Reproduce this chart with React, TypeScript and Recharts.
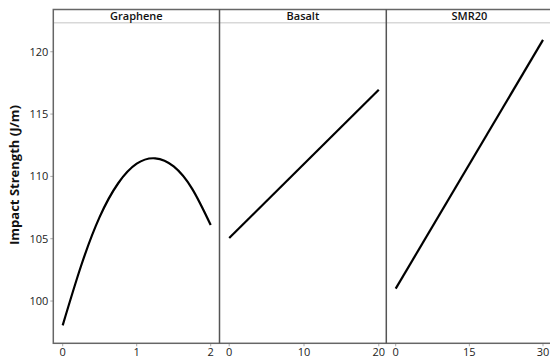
import React from "react";
import { LineChart, Line, XAxis, YAxis } from "recharts";

const panelNames = ["Graphene", "Basalt", "SMR20"];
const yTicks = [100, 105, 110, 115, 120];
const yLabel = "Impact Strength (J/m)";

const grapheneX = [0, 0.25, 0.5, 0.75, 1, 1.25, 1.5, 1.75, 2];
const grapheneY = [98.05, 102.85, 106.75, 109.45, 111.02, 111.45, 110.8, 109.0, 106.1];
const grapheneTicks = [0, 1, 2];

const basaltX = [0, 20];
const basaltY = [105.05, 116.95];
const basaltTicks = [0, 10, 20];

const smrX = [0, 30];
const smrY = [101.0, 120.95];
const smrTicks = [0, 15, 30];

const FONT = "'Open Sans', 'Noto Sans', sans-serif";
const Y_DOMAIN: [number, number] = [96.61, 122.33];
const TOP = 22.7;
const FRAME_TOP = 9.5;
const BOTTOM = 343.3;
const H = 358;
const XAX_H = H - BOTTOM;

const toData = (xs: number[], ys: number[]) => xs.map((x, i) => ({ x, y: ys[i] }));

type PanelProps = {
  left: number;
  width: number;
  yAxisWidth: number;
  domain: [number, number];
  ticks: number[];
  xs: number[];
  ys: number[];
  curve: "natural" | "linear";
  showY: boolean;
};

const tickStyle = { fontSize: 11, fill: "#222", fontFamily: FONT };

function Panel(p: PanelProps) {
  return (
    <div style={{ position: "absolute", left: p.left, top: 0 }}>
      <LineChart
        width={p.width}
        height={H}
        data={toData(p.xs, p.ys)}
        margin={{ top: TOP, right: 0, bottom: 0, left: 0 }}
      >
        <XAxis
          dataKey="x"
          type="number"
          domain={p.domain}
          allowDataOverflow
          ticks={p.ticks}
          height={XAX_H}
          axisLine={false}
          tickLine={{ stroke: "#aaa" }}
          tickSize={3}
          tick={tickStyle}
          interval={0}
        />
        <YAxis
          hide={!p.showY}
          type="number"
          domain={Y_DOMAIN}
          allowDataOverflow
          ticks={yTicks}
          width={p.yAxisWidth}
          axisLine={false}
          tickLine={{ stroke: "#aaa" }}
          tickSize={3}
          tick={tickStyle}
          interval={0}
        />
        <Line
          dataKey="y"
          type={p.curve}
          stroke="#000"
          strokeWidth={2.2}
          dot={false}
          isAnimationActive={false}
        />
      </LineChart>
    </div>
  );
}

export default function App() {
  const x0 = 53.3;
  const d1 = 219.5;
  const d2 = 386.3;
  const xr = 552.5;
  const centers = [(x0 + d1) / 2, (d1 + d2) / 2, (d2 + xr) / 2];
  return (
    <div
      style={{
        position: "fixed",
        left: 0,
        top: 0,
        width: 550,
        height: 358,
        overflow: "hidden",
        background: "#fff",
      }}
    >
      <div style={{ position: "relative", width: 560, height: 358 }}>
        <Panel
          left={0}
          width={d1}
          yAxisWidth={x0}
          domain={[-0.127, 2.119]}
          ticks={grapheneTicks}
          xs={grapheneX}
          ys={grapheneY}
          curve="natural"
          showY={true}
        />
        <Panel
          left={d1}
          width={d2 - d1}
          yAxisWidth={0}
          domain={[-1.23, 21.07]}
          ticks={basaltTicks}
          xs={basaltX}
          ys={basaltY}
          curve="linear"
          showY={false}
        />
        <Panel
          left={d2}
          width={xr - d2}
          yAxisWidth={0}
          domain={[-1.976, 31.87]}
          ticks={smrTicks}
          xs={smrX}
          ys={smrY}
          curve="linear"
          showY={false}
        />
        <svg
          width={560}
          height={358}
          style={{ position: "absolute", left: 0, top: 0, pointerEvents: "none" }}
        >
          <line x1={x0} x2={xr} y1={TOP} y2={TOP} stroke="#d8d8d8" strokeWidth={1.5} />
          <rect
            x={x0}
            y={FRAME_TOP}
            width={xr - x0}
            height={BOTTOM - FRAME_TOP}
            fill="none"
            stroke="#666"
            strokeWidth={1.5}
          />
          <line x1={d1} x2={d1} y1={FRAME_TOP} y2={BOTTOM} stroke="#555" strokeWidth={1.5} />
          <line x1={d2} x2={d2} y1={FRAME_TOP} y2={BOTTOM} stroke="#555" strokeWidth={1.5} />
          {panelNames.map((n, i) => (
            <text
              key={n}
              x={centers[i]}
              y={19.5}
              textAnchor="middle"
              fontFamily={FONT}
              fontSize={11}
              fontWeight={600}
              fill="#111"
            >
              {n}
            </text>
          ))}
          <text
            transform="translate(18.5,175) rotate(-90)"
            textAnchor="middle"
            fontFamily={FONT}
            fontSize={13}
            fontWeight={700}
            fill="#111"
          >
            {yLabel}
          </text>
        </svg>
      </div>
    </div>
  );
}
